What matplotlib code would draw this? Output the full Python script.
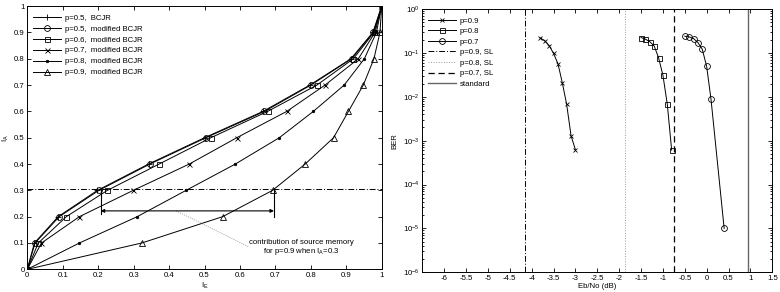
import matplotlib
matplotlib.use("Agg")
import matplotlib.pyplot as plt
import numpy as np
from matplotlib.ticker import LogLocator, NullFormatter, FixedLocator

plt.rcParams['font.family'] = ['Liberation Sans', 'DejaVu Sans']
plt.rcParams['mathtext.fontset'] = 'custom'
plt.rcParams['mathtext.rm'] = 'Liberation Sans'
plt.rcParams['axes.unicode_minus'] = False

# ---------------- Left chart data (EXIT chart) ----------------
ia_levels = [0, 0.1, 0.2, 0.3, 0.4, 0.5, 0.6, 0.7, 0.8, 0.9, 1.0]
ie_p05_bcjr = [0, 0.020, 0.087, 0.198, 0.342, 0.500, 0.665, 0.797, 0.913, 0.975, 1.0]
ie_p05_mod = [0, 0.022, 0.090, 0.202, 0.346, 0.504, 0.669, 0.800, 0.915, 0.976, 1.0]
ie_p06_mod = [0, 0.031, 0.110, 0.226, 0.372, 0.518, 0.678, 0.817, 0.920, 0.978, 1.0]
ie_p07_mod = [0, 0.040, 0.147, 0.299, 0.457, 0.591, 0.732, 0.840, 0.934, 0.981, 1.0]
ie_p08_mod = [0, 0.147, 0.310, 0.448, 0.587, 0.711, 0.807, 0.894, 0.951, 0.985, 1.0]
ie_p09_mod = [0, 0.323, 0.551, 0.692, 0.784, 0.864, 0.906, 0.948, 0.978, 0.995, 1.0]
left_labels = ['p=0.5,  BCJR', 'p=0.5,  modified BCJR', 'p=0.6,  modified BCJR',
               'p=0.7,  modified BCJR', 'p=0.8,  modified BCJR', 'p=0.9,  modified BCJR']
ia_ref = 0.305
ie_ref_left = 0.207
ie_ref_right = 0.696

# ---------------- Right chart data (BER) ----------------
ebno_p09 = [-3.8, -3.7, -3.6, -3.5, -3.4, -3.3, -3.2, -3.1, -3.0]
ber_p09 = [0.219, 0.187, 0.147, 0.097, 0.057, 0.021, 0.0067, 0.0013, 0.00062]
ebno_p08 = [-1.5, -1.4, -1.3, -1.2, -1.1, -1.0, -0.9, -0.8]
ber_p08 = [0.224, 0.205, 0.180, 0.144, 0.078, 0.031, 0.0068, 0.00061]
ebno_p07 = [-0.5, -0.4, -0.3, -0.2, -0.1, 0.0, 0.1, 0.4]
ber_p07 = [0.240, 0.231, 0.212, 0.172, 0.121, 0.049, 0.0087, 0.00001]
sl_p09 = -4.15
sl_p08 = -1.86
sl_p07 = -0.75
sl_standard = 0.94
right_labels = ['p=0.9', 'p=0.8', 'p=0.7', 'p=0.9, SL', 'p=0.8, SL', 'p=0.7, SL', 'standard']

FS = 5.6
LW = 0.7

fig = plt.figure(figsize=(7.8, 2.92), dpi=100)

# ===== Left axes =====
ax1 = fig.add_axes([0.035, 0.0777, 0.4544, 0.9013])
series = [
    (ie_p05_bcjr, dict(marker='+', ms=4, mfc='none')),
    (ie_p05_mod, dict(marker='o', ms=4.2, mfc='none')),
    (ie_p06_mod, dict(marker='s', ms=3.6, mfc='none')),
    (ie_p07_mod, dict(marker='x', ms=3.6, mfc='none')),
    (ie_p08_mod, dict(marker='.', ms=3.5)),
    (ie_p09_mod, dict(marker='^', ms=4, mfc='none')),
]
for (ie, st), lab in zip(series, left_labels):
    ax1.plot(ie, ia_levels, color='black', lw=LW, mew=0.6, label=lab, **st)

ax1.axhline(ia_ref, color='black', lw=0.7, linestyle=(0, (6, 2, 1, 2)))
ax1.plot([ie_ref_left, ie_ref_left], [ia_ref, 0.21], color='black', lw=0.8)
ax1.plot([ie_ref_right, ie_ref_right], [ia_ref, 0.20], color='black', lw=0.8)
ax1.annotate('', xy=(ie_ref_left, 0.222), xytext=(ie_ref_right, 0.222),
             arrowprops=dict(arrowstyle='<|-|>', color='black', lw=0.8,
                             mutation_scale=5, shrinkA=0, shrinkB=0))
ax1.plot([0.42, 0.624], [0.222, 0.086], color='gray', lw=0.6, linestyle=':')
ax1.text(0.772, 0.10, 'contribution of source memory', fontsize=FS,
         ha='center', va='center')
ax1.text(0.772, 0.068, 'for p=0.9 when I$_\\mathregular{A}$=0.3', fontsize=FS,
         ha='center', va='center')

ax1.set_xlim(0, 1)
ax1.set_ylim(0, 1)
ax1.set_xticks(np.arange(0, 1.01, 0.1))
ax1.set_yticks(np.arange(0, 1.01, 0.1))
ax1.set_xticklabels(['0', '0.1', '0.2', '0.3', '0.4', '0.5', '0.6', '0.7', '0.8', '0.9', '1'])
ax1.set_yticklabels(['0', '0.1', '0.2', '0.3', '0.4', '0.5', '0.6', '0.7', '0.8', '0.9', '1'])
ax1.tick_params(direction='in', top=True, right=True, labelsize=FS, length=3,
                width=0.6, pad=2)
ax1.set_xlabel('I$_\\mathregular{E}$', fontsize=FS, labelpad=1)
ax1.set_ylabel('I$_\\mathregular{A}$', fontsize=FS, labelpad=2)
for s in ax1.spines.values():
    s.set_linewidth(0.7)
leg1 = ax1.legend(loc='upper left', fontsize=FS, frameon=False, handlelength=3.6,
                  handletextpad=0.5, labelspacing=0.45, borderaxespad=0.3,
                  bbox_to_anchor=(0.0, 0.99))

# ===== Right axes =====
ax2 = fig.add_axes([0.5414, 0.0675, 0.4487, 0.9017])
ax2.plot(ebno_p09, ber_p09, color='black', lw=LW, marker='x', ms=2.8, mew=0.6, label=right_labels[0])
ax2.plot(ebno_p08, ber_p08, color='black', lw=LW, marker='s', ms=3.6, mfc='none', mew=0.6, label=right_labels[1])
ax2.plot(ebno_p07, ber_p07, color='black', lw=LW, marker='o', ms=4.2, mfc='none', mew=0.6, label=right_labels[2])
ax2.axvline(sl_p09, color='black', lw=0.7, linestyle=(0, (6, 2, 1, 2)), label=right_labels[3])
ax2.axvline(sl_p08, color='#999999', lw=0.7, linestyle=':', label=right_labels[4])
ax2.axvline(sl_p07, color='black', lw=0.9, linestyle=(0, (5, 3)), label=right_labels[5])
ax2.axvline(sl_standard, color='#666666', lw=1.0, linestyle='-', label=right_labels[6])

ax2.set_yscale('log')
ax2.set_xlim(-6.5, 1.5)
ax2.set_ylim(1e-6, 1)
ax2.set_xticks(np.arange(-6, 1.51, 0.5))
ax2.set_xticklabels([('%g' % v) for v in np.arange(-6, 1.51, 0.5)])
ax2.yaxis.set_major_locator(FixedLocator([1e-6, 1e-5, 1e-4, 1e-3, 1e-2, 1e-1, 1]))
ax2.yaxis.set_minor_locator(LogLocator(base=10, subs=np.arange(2, 10), numticks=20))
ax2.yaxis.set_minor_formatter(NullFormatter())
ax2.tick_params(which='both', direction='in', top=True, right=True, labelsize=FS,
                width=0.6, pad=2)
ax2.tick_params(which='major', length=3)
ax2.tick_params(which='minor', length=1.6)
ax2.set_xlabel('Eb/No (dB)', fontsize=FS, labelpad=1)
ax2.set_ylabel('BER', fontsize=FS, labelpad=3)
for s in ax2.spines.values():
    s.set_linewidth(0.7)
leg2 = ax2.legend(loc='upper left', fontsize=FS, frameon=False, handlelength=3.6,
                  handletextpad=0.5, labelspacing=0.4, borderaxespad=0.3,
                  bbox_to_anchor=(0.0, 0.99))

fig.savefig('out.png', dpi=100)
